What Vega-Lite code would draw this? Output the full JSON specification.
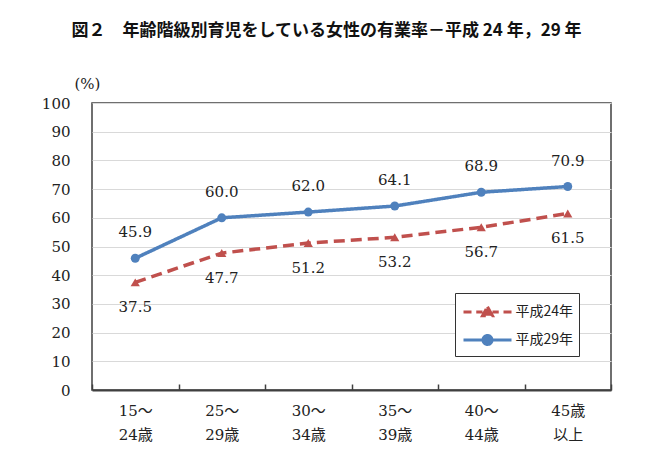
{
  "$schema": "https://vega.github.io/schema/vega-lite/v6.json",
  "autosize": "none",
  "width": 519,
  "height": 287,
  "padding": {"left": 92, "top": 103, "right": 46, "bottom": 78},
  "background": "white",
  "title": {
    "text": "図２　年齢階級別育児をしている女性の有業率－平成 24 年，29 年",
    "font": "Noto Sans CJK JP",
    "fontSize": 17,
    "fontWeight": "bold",
    "color": "#111",
    "anchor": "middle",
    "dx": -25,
    "offset": 36
  },
  "config": {
    "view": {"stroke": "#404040", "strokeWidth": 1.5},
    "axis": {"labelFont": "DejaVu Serif, Noto Sans CJK JP", "labelFontSize": 15, "labelColor": "#222"}
  },
  "data": {
    "values": [
      {"age": "15～24歳", "series": "平成24年", "rate": 37.5},
      {"age": "25～29歳", "series": "平成24年", "rate": 47.7},
      {"age": "30～34歳", "series": "平成24年", "rate": 51.2},
      {"age": "35～39歳", "series": "平成24年", "rate": 53.2},
      {"age": "40～44歳", "series": "平成24年", "rate": 56.7},
      {"age": "45歳以上", "series": "平成24年", "rate": 61.5},
      {"age": "15～24歳", "series": "平成29年", "rate": 45.9},
      {"age": "25～29歳", "series": "平成29年", "rate": 60.0},
      {"age": "30～34歳", "series": "平成29年", "rate": 62.0},
      {"age": "35～39歳", "series": "平成29年", "rate": 64.1},
      {"age": "40～44歳", "series": "平成29年", "rate": 68.9},
      {"age": "45歳以上", "series": "平成29年", "rate": 70.9}
    ]
  },
  "encoding": {
    "x": {
      "field": "age", "type": "nominal", "sort": null,
      "scale": {"paddingInner": 0, "paddingOuter": 0},
      "axis": {
        "title": null, "labelAngle": 0, "tickBand": "extent", "tickSize": -6, "tickColor": "#404040", "tickWidth": 1.5,
        "domainColor": "#404040", "domainWidth": 2, "labelPadding": 19, "labelLineHeight": 24, "labelBaseline": "top",
        "labelExpr": "datum.label == '45歳以上' ? ['45歳', '以上'] : [slice(datum.label, 0, 3), slice(datum.label, 3)]"
      }
    },
    "y": {
      "field": "rate", "type": "quantitative",
      "scale": {"domain": [0, 100]},
      "axis": {
        "values": [0, 10, 20, 30, 40, 50, 60, 70, 80, 90, 100],
        "title": "(%)", "titleAngle": 0, "titleX": -5, "titleY": -20, "titleAlign": "center", "titleBaseline": "middle",
        "titleFont": "DejaVu Serif", "titleFontSize": 15, "titleFontWeight": "normal", "titleColor": "#222",
        "domain": false, "ticks": false, "labelPadding": 22,
        "gridColor": "#d9d9d9", "gridWidth": 1.2
      }
    }
  },
  "layer": [
    {
      "mark": {"type": "line", "strokeWidth": 3.5},
      "encoding": {
        "color": {
          "field": "series", "type": "nominal",
          "scale": {"domain": ["平成24年", "平成29年"], "range": ["#C0504D", "#4F81BD"]},
          "legend": {
            "title": null, "orient": "none", "legendX": 363, "legendY": 190,
            "padding": 5, "strokeColor": "#333", "fillColor": "white",
            "symbolSize": 625, "symbolOffset": 13.5, "labelOffset": 14, "rowPadding": 4,
            "labelFont": "Noto Sans CJK JP", "labelFontSize": 14, "labelColor": "#222",
            "encode": {
              "symbols": {
                "update": {
                  "shape": {"signal": "datum.value === '平成24年' ? 'M-1.92,0H-1.28M-0.9,0H-0.4M0.4,0H0.9M1.28,0H1.92M0,-0.42L0.4,0.3L-0.4,0.3Z' : 'M-1.92,0H1.92M0.36,0A0.36,0.36,0,1,1,-0.36,0A0.36,0.36,0,1,1,0.36,0Z'"},
                  "fill": {"signal": "datum.value === '平成24年' ? '#C0504D' : '#4F81BD'"},
                  "stroke": {"signal": "datum.value === '平成24年' ? '#C0504D' : '#4F81BD'"},
                  "strokeWidth": {"value": 3},
                  "strokeDash": {"value": []},
                  "opacity": {"value": 1}
                }
              }
            }
          }
        },
        "strokeDash": {
          "field": "series", "type": "nominal",
          "scale": {"domain": ["平成24年", "平成29年"], "range": [[11, 6], [1, 0]]},
          "legend": null
        }
      }
    },
    {
      "transform": [{"filter": "datum.series === '平成24年'"}],
      "mark": {"type": "point", "filled": true, "opacity": 1, "size": 85, "shape": "triangle-up", "color": "#C0504D"}
    },
    {
      "transform": [{"filter": "datum.series === '平成29年'"}],
      "mark": {"type": "point", "filled": true, "opacity": 1, "size": 80, "shape": "circle", "color": "#4F81BD"}
    },
    {
      "transform": [{"filter": "datum.series === '平成29年'"}],
      "mark": {"type": "text", "dy": -26, "font": "DejaVu Serif, Noto Sans CJK JP", "fontSize": 15, "color": "#222"},
      "encoding": {"text": {"field": "rate", "type": "quantitative", "format": ".1f"}}
    },
    {
      "transform": [{"filter": "datum.series === '平成24年'"}],
      "mark": {"type": "text", "dy": 25, "font": "DejaVu Serif, Noto Sans CJK JP", "fontSize": 15, "color": "#222"},
      "encoding": {"text": {"field": "rate", "type": "quantitative", "format": ".1f"}}
    }
  ]
}
